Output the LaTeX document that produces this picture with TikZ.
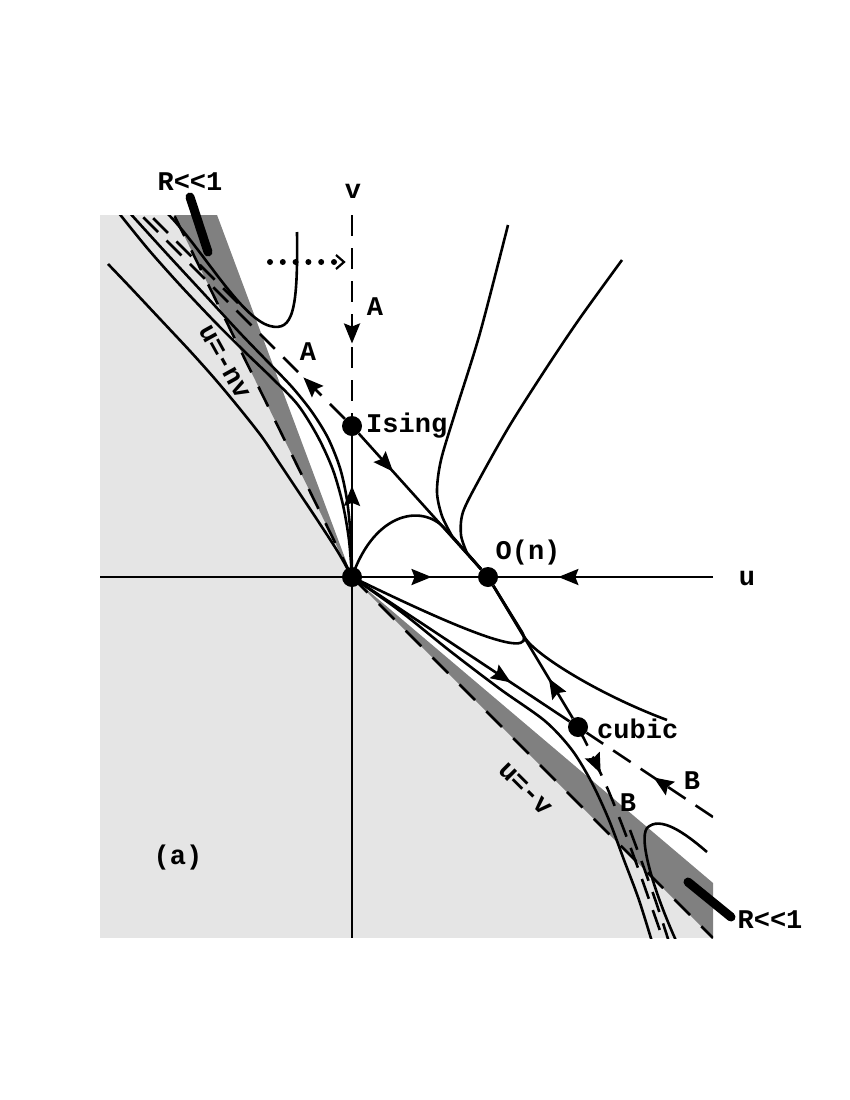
\documentclass[tikz,border=0pt]{standalone}
\usepackage{fontspec}
\newfontfamily\cour{Liberation Mono}
\usetikzlibrary{arrows.meta,decorations.markings}
\definecolor{lightg}{gray}{0.898}
\definecolor{darkg}{gray}{0.5}
\tikzset{
  fp/.style={circle, fill=black, minimum size=20pt, inner sep=0pt},
  lbl/.style={font=\cour\bfseries\fontsize{27}{30}\selectfont, inner sep=0pt},
  flow/.style={line width=2.6pt},
  dsh/.style={line width=2.6pt, dash pattern=on 21pt off 12pt},
  edgedash/.style={line width=2.6pt, dash pattern=on 22pt off 16pt},
  arrowat/.style={postaction={decorate,decoration={markings,mark=at position #1 with {\arrow{Stealth[length=20pt,width=16pt,inset=3pt]}}}}},
  rbar/.style={line width=9pt, line cap=round},
}
\begin{document}
\begin{tikzpicture}[x=1pt,y=-1pt]
\useasboundingbox (0,0) rectangle (850,1100);
% regions
\fill[lightg] (100,215) rectangle (713,938);
\fill[white] (217,215) -- (352,577) -- (713,883) -- (713,215) -- cycle;
\fill[darkg] (174,215) -- (217,215) -- (352,577) -- cycle;
\fill[darkg] (352,577) -- (713,883) -- (713,938) -- cycle;
% fixed points
\node[fp] (G) at (352,577) {};
\node[fp] (Is) at (352,426) {};
\node[fp] (On) at (488,577) {};
\node[fp] (Cu) at (578,727) {};
% free ends
\coordinate (vtop) at (352,215);
\coordinate (vbot) at (352,938);
\coordinate (uleft) at (100,577);
\coordinate (uright) at (713,577);
\coordinate (nvend) at (174,215);
\coordinate (vvend) at (713,938);
\coordinate (Aend) at (138,212);
\coordinate (Bfar) at (713,817);
\begin{scope}
\clip (100,215) rectangle (713,938);
% stability lines
\draw[edgedash] (G.center) -- (nvend);
\draw[edgedash] (G.center) -- (vvend);
% axes
\draw[flow] (uleft) -- (G);
\draw[flow, arrowat=0.6] (G) -- (On);
\draw[flow, arrowat=0.72] (uright) -- (On);
\draw[flow] (G) -- (vbot);
\draw[flow, arrowat=0.62] (G) -- (Is);
\draw[dsh, arrowat=0.64] (vtop) -- (Is);
% separatrices
\draw[flow, arrowat=0.28] (Is) -- (On);
\draw[dsh, arrowat=0.2] (Is) -- (Aend);
\draw[dsh] (238,303) -- (145,210);
\draw[flow, arrowat=0.72] (G) -- (Cu);
\draw[flow, arrowat=0.3] (Cu) -- (On);
\draw[dsh, arrowat=0.47] (Bfar) -- (Cu);
\draw[dsh, arrowat=0.22] plot[smooth] coordinates {(578,727) (593,757) (609,792) (624,830) (638,868) (651,905) (665,945)};
\draw[dsh] plot[smooth] coordinates {(630,830) (644,868) (657,905) (670,945)};
% trajectories upper left
\draw[flow] plot[smooth] coordinates {(352,577) (338,552) (318,521) (300,494) (280,464) (262,437) (240,409) (215,379) (190,351) (160,319) (130,287) (108,264)};
\draw[flow] plot[smooth] coordinates {(352,577) (349,540) (343,505) (333,470) (318,437) (298,405) (272,378) (245,352) (215,322) (180,285) (148,249) (118,212)};
\draw[flow] plot[smooth] coordinates {(352,577) (351,540) (347,500) (340,468) (328,438) (312,412) (292,387) (268,362) (240,333) (205,295) (168,255) (128,211)};
\draw[flow] (297,232) .. controls (298,310) and (293,332) .. (270,326) .. controls (240,318) and (200,245) .. (165,211);
% trajectories near O(n)
\draw[flow] (G.center) .. controls (375,510) and (425,503) .. (447,531) -- (On);
\draw[flow] plot[smooth] coordinates {(508,225) (480,333) (456,410) (441,460) (437,492) (442,516) (452,536)} -- (On);
\draw[flow] plot[smooth] coordinates {(622,260) (580,318) (547,367) (510,425) (480,478) (463,512) (461,535) (467,553)} -- (On);
\draw[flow] (G.center) .. controls (440,620) and (540,665) .. (522,632) -- (On);
\draw[flow] (667,720) .. controls (600,695) and (537,656) .. (525,638) -- (On);
% trajectories lower right
\draw[flow] plot[smooth] coordinates {(352,577) (400,611) (450,651) (500,689) (545,721) (572,750) (592,783) (609,820) (624,860) (639,900) (653,945)};
\draw[flow] (707,852) .. controls (685,833) and (660,815) .. (647,828) .. controls (638,840) and (655,895) .. (678,945);
\end{scope}
% dotted arrow
\coordinate (dA) at (270,262);
\coordinate (dB) at (334,262);
\draw[line width=6pt, line cap=round, dash pattern=on 0pt off 12.8pt] (dA) -- (dB);
\draw[line width=2.2pt] (336,255) -- (344,262) -- (336,269);
% R<<1 bars
\coordinate (r1a) at (190,197);
\coordinate (r1b) at (208,252);
\coordinate (r2a) at (688,882);
\coordinate (r2b) at (731,917);
\draw[rbar] (r1a) -- (r1b);
\draw[rbar] (r2a) -- (r2b);
% labels
\node[lbl] (lR1) at (190,182) {R<<1};
\node[lbl] (lR2) at (770,920) {R<<1};
\node[lbl] (lv) at (353,191) {v};
\node[lbl] (lu) at (747,578) {u};
\node[lbl] (lA1) at (375,307) {A};
\node[lbl] (lA2) at (308,352) {A};
\node[lbl, anchor=west] (lIs) at (366,426) {Ising};
\node[lbl] (lOn) at (528,553) {O(n)};
\node[lbl, anchor=west] (lCu) at (597,729) {cubic};
\node[lbl] (lB1) at (692,781) {B};
\node[lbl] (lB2) at (628,803) {B};
\node[lbl] (la) at (178,858) {(a)};
\node[lbl, rotate=-61] (lnv) at (224,362) {u=-nv};
\node[lbl, rotate=-45] (luv) at (525,789) {u=-v};
\end{tikzpicture}
\end{document}
